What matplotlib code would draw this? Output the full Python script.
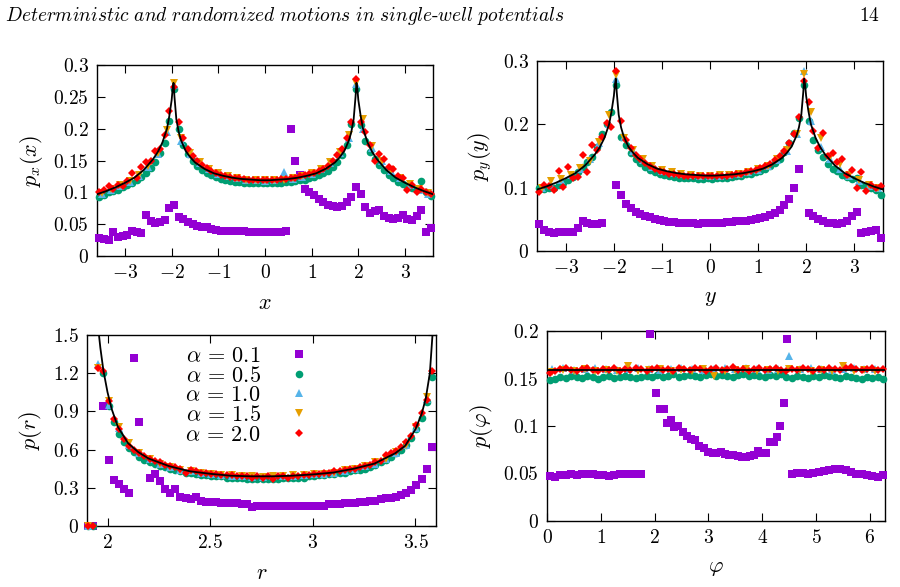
import numpy as np
import matplotlib
matplotlib.use("Agg")
import matplotlib.pyplot as plt
from matplotlib.ticker import FuncFormatter, FixedLocator

plt.rcParams['font.family'] = 'serif'
plt.rcParams['font.serif'] = ['cmr10', 'DejaVu Serif']
plt.rcParams['mathtext.fontset'] = 'cm'
plt.rcParams['axes.unicode_minus'] = False

labels = [r'$\alpha\,=\,0.1$', r'$\alpha\,=\,0.5$', r'$\alpha\,=\,1.0$', r'$\alpha\,=\,1.5$', r'$\alpha\,=\,2.0$']
colors = ['#9400d3', '#009e73', '#56b4e9', '#e69f00', '#ff0000']
markers = ['s', 'o', '^', 'v', 'D']
msizes = [6, 5.5, 5.5, 5.5, 4.5]

# ---------------- p_x(x) ----------------
px_theory_x = [-3.6,-3.4,-3.2,-3.0,-2.8,-2.6,-2.4,-2.3,-2.2,-2.1,-2.05,-2.0,-1.98,-1.96,-1.94,-1.9,-1.85,-1.8,-1.7,-1.6,-1.5,-1.3,-1.1,-0.9,-0.7,-0.5,-0.3,-0.1,0.0,
               0.1,0.3,0.5,0.7,0.9,1.1,1.3,1.5,1.6,1.7,1.8,1.85,1.9,1.94,1.96,1.98,2.0,2.05,2.1,2.2,2.3,2.4,2.6,2.8,3.0,3.2,3.4,3.6]
px_theory_y = [0.097,0.102,0.108,0.115,0.123,0.135,0.152,0.163,0.178,0.200,0.220,0.245,0.262,0.272,0.250,0.215,0.195,0.182,0.165,0.155,0.147,0.137,0.130,0.126,0.123,0.121,0.120,0.119,0.119,
               0.119,0.120,0.121,0.123,0.126,0.130,0.137,0.147,0.155,0.165,0.182,0.195,0.215,0.250,0.272,0.262,0.245,0.220,0.200,0.178,0.163,0.152,0.135,0.123,0.115,0.108,0.102,0.097]
px_grid = np.round(np.arange(-3.55, 3.56, 0.1), 2)
px_purple = [0.028,0.026,0.025,0.037,0.030,0.032,0.033,0.040,0.037,0.036,
             0.065,0.055,0.052,0.053,0.056,0.076,0.080,0.062,0.058,0.053,
             0.050,0.047,0.045,0.045,0.043,0.041,0.040,0.040,0.040,0.040,
             0.039,0.039,0.037,0.038,0.037,0.037,0.038,0.037,0.038,0.038,
             0.039,0.200,0.149,0.127,0.105,0.100,0.096,0.090,0.085,0.080,
             0.078,0.077,0.078,0.085,0.092,0.108,0.098,0.077,0.068,0.070,
             0.072,0.063,0.060,0.058,0.060,0.065,0.058,0.057,0.063,0.072,
             0.038,0.044]
px_green = [0.093,0.096,0.100,0.102,0.104,0.108,0.111,0.115,0.119,0.124,
            0.131,0.138,0.148,0.162,0.178,0.212,0.262,0.200,0.175,0.160,
            0.150,0.142,0.135,0.131,0.127,0.124,0.121,0.119,0.118,0.117,
            0.116,0.115,0.115,0.114,0.114,0.114,
            0.114,0.114,0.115,0.115,0.116,0.117,0.118,0.119,0.120,0.122,
            0.124,0.127,0.130,0.134,0.140,0.148,0.158,0.175,0.208,0.262,
            0.205,0.180,0.163,0.152,0.143,0.135,0.128,0.123,0.117,0.113,
            0.110,0.107,0.104,0.118,0.100,0.095]
px_red = [0.100,0.103,0.110,0.106,0.112,0.110,0.118,0.130,0.122,0.140,
          0.148,0.150,0.165,0.168,0.190,0.228,0.266,0.210,0.185,0.168,
          0.157,0.150,0.143,0.138,0.134,0.130,0.128,0.126,0.124,0.123,
          0.122,0.121,0.120,0.120,0.120,0.119,
          0.119,0.120,0.120,0.121,0.121,0.122,0.123,0.125,0.127,0.129,
          0.131,0.134,0.137,0.142,0.150,0.158,0.168,0.185,0.210,0.278,
          0.210,0.195,0.175,0.150,0.160,0.152,0.140,0.136,0.125,0.122,
          0.103,0.112,0.100,0.105,0.100,0.098]
bo_grid = [-3.5,-3.3,-3.1,-2.9,-2.7,-2.5,-2.3,-2.1,-1.95,-1.8,-1.6,-1.4,-1.2,-1.0,-0.8,-0.6,-0.4,-0.2,0.0,
           0.2,0.4,0.6,0.8,1.0,1.2,1.4,1.6,1.8,1.95,2.1,2.3,2.5,2.7,2.9,3.1,3.3,3.5]
px_blue = [0.098,0.104,0.110,0.117,0.126,0.140,0.160,0.195,0.268,0.180,0.160,0.146,0.136,0.129,0.125,0.122,0.120,0.119,0.118,
           0.119,0.132,0.121,0.124,0.129,0.136,0.146,0.162,0.185,0.270,0.200,0.170,0.150,0.134,0.122,0.112,0.104,0.098]
px_orange = [0.099,0.105,0.111,0.118,0.127,0.141,0.162,0.198,0.272,0.185,0.162,0.147,0.137,0.130,0.125,0.122,0.120,0.119,0.119,
             0.119,0.120,0.122,0.125,0.130,0.137,0.147,0.163,0.190,0.272,0.215,0.172,0.150,0.135,0.123,0.113,0.105,0.099]

# ---------------- p_y(y) ----------------
py_purple = [0.042,0.033,0.030,0.028,0.030,0.030,0.030,0.030,0.036,0.048,
             0.045,0.042,0.043,0.044,np.nan,np.nan,0.105,0.088,0.074,0.068,
             0.062,0.058,0.056,0.053,0.050,0.049,0.047,0.046,0.046,0.045,
             0.045,0.044,0.044,0.043,0.044,0.045,0.044,0.044,0.045,0.046,
             0.046,0.047,0.048,0.048,0.049,0.050,0.052,0.054,0.057,0.060,
             0.065,0.072,0.082,0.100,0.130,np.nan,0.060,0.056,0.050,0.047,
             0.045,0.044,0.043,0.045,0.048,0.055,0.062,0.028,0.030,0.032,
             0.033,0.021]
py_green = [0.099,0.098,0.099,0.100,0.104,0.108,0.112,0.117,0.125,0.132,
            0.140,0.148,0.165,0.185,0.200,0.220,0.262,0.180,0.168,0.155,
            0.146,0.139,0.133,0.128,0.125,0.122,0.120,0.118,0.117,0.116,
            0.115,0.115,0.115,0.114,0.114,0.115,
            0.114,0.115,0.115,0.116,0.117,0.118,0.119,0.121,0.122,0.124,
            0.127,0.130,0.134,0.139,0.146,0.156,0.170,0.186,0.210,0.262,
            0.205,0.175,0.160,0.148,0.138,0.130,0.126,0.120,0.117,0.113,
            0.115,0.105,0.103,0.100,0.097,0.088]
py_red = [0.093,0.105,0.102,0.096,0.127,0.101,0.133,0.115,0.117,0.152,
          0.125,0.167,0.160,0.180,0.202,0.195,0.285,0.205,0.175,0.162,
          0.152,0.145,0.139,0.134,0.130,0.127,0.124,0.122,0.121,0.120,
          0.119,0.119,0.118,0.118,0.118,0.118,
          0.118,0.118,0.119,0.119,0.120,0.121,0.122,0.124,0.126,0.128,
          0.131,0.134,0.138,0.143,0.150,0.158,0.170,0.185,0.212,0.268,
          0.235,0.190,0.162,0.186,0.150,0.155,0.140,0.145,0.120,0.128,
          0.100,0.125,0.095,0.105,0.100,0.103]
py_blue = [0.099,0.104,0.112,0.120,0.130,0.145,0.170,0.200,0.272,0.180,0.158,0.143,0.133,0.127,0.123,0.121,0.120,0.119,0.119,
           0.119,0.120,0.121,0.124,0.128,0.134,0.143,0.158,0.185,0.285,0.205,0.165,0.145,0.130,0.118,0.110,0.103,0.099]
py_orange = [0.100,0.110,0.113,0.120,0.131,0.142,0.172,0.215,0.278,0.178,0.160,0.145,0.134,0.128,0.124,0.121,0.120,0.119,0.119,
             0.120,0.120,0.122,0.125,0.129,0.135,0.145,0.160,0.185,0.280,0.220,0.178,0.148,0.138,0.120,0.112,0.104,0.100]

# ---------------- p(r) ----------------
pr_theory_r = [1.955,1.965,1.98,2.0,2.02,2.05,2.1,2.15,2.2,2.3,2.4,2.5,2.6,2.7,2.8,2.9,3.0,3.1,3.2,3.3,3.4,3.45,3.5,3.53,3.55,3.57,3.585]
pr_theory_y = [1.55,1.40,1.22,1.05,0.92,0.78,0.65,0.58,0.53,0.47,0.43,0.41,0.395,0.39,0.39,0.395,0.405,0.42,0.45,0.49,0.57,0.63,0.76,0.88,1.00,1.20,1.55]
pr_grid = np.round(np.arange(1.905, 3.59, 0.025), 3)
pr_red = [0.00,0.00,1.24,1.22,0.98,0.84,0.76,0.68,0.63,0.60,
          0.57,0.55,0.53,0.51,0.50,0.48,0.47,0.46,0.45,0.42,
          0.44,0.43,0.42,0.42,0.41,0.41,0.40,0.40,0.40,0.39,
          0.39,0.39,0.38,0.39,0.38,0.39,0.37,0.39,0.39,0.38,
          0.39,0.39,0.40,0.40,0.41,0.41,0.42,0.42,0.43,0.43,
          0.44,0.45,0.45,0.46,0.47,0.48,0.50,0.51,0.56,0.57,
          0.59,0.62,0.66,0.71,0.79,0.89,0.99,1.22]
pr_green = [0.00,0.00,np.nan,1.20,0.94,0.82,0.72,0.66,0.61,0.58,
            0.54,0.52,0.50,0.49,0.47,0.46,0.45,0.44,0.43,0.42,
            0.42,0.41,0.40,0.40,0.39,0.39,0.39,0.38,0.38,0.38,
            0.38,0.37,0.37,0.37,0.37,0.37,0.37,0.37,0.38,0.38,
            0.38,0.38,0.38,0.39,0.39,0.40,0.40,0.41,0.41,0.42,
            0.42,0.43,0.44,0.44,0.45,0.46,0.48,0.50,0.52,0.54,
            0.57,0.60,0.64,0.69,0.76,0.85,0.97,1.17]
pr_purple = [0.00,0.00,np.nan,0.94,0.52,0.36,0.33,0.29,0.26,1.32,
             0.82,np.nan,0.38,0.41,0.35,0.29,0.26,0.29,0.23,0.22,
             0.21,0.23,0.20,0.19,0.19,0.19,0.18,0.18,0.18,0.18,
             0.17,0.17,0.15,0.16,0.16,0.16,0.16,0.16,0.16,0.16,
             0.16,0.16,0.16,0.16,0.16,0.16,0.16,0.17,0.17,0.17,
             0.18,0.18,0.18,0.19,0.19,0.20,0.20,0.21,0.22,0.22,
             0.23,0.24,0.26,0.28,0.32,0.37,0.45,0.62]
pr_bo_grid = np.round(np.arange(1.905, 3.59, 0.05), 3)
pr_blue = [0.00,1.27,0.95,0.77,0.64,0.57,0.53,0.49,0.46,0.44,
           0.43,0.42,0.41,0.40,0.395,0.39,0.385,0.385,0.39,0.39,
           0.395,0.40,0.405,0.41,0.42,0.435,0.45,0.47,0.49,0.53,
           0.57,0.64,0.77,1.00]
pr_orange = [0.00,1.24,0.98,0.78,0.65,0.57,0.53,0.49,0.46,0.44,
             0.43,0.42,0.41,0.40,0.40,0.39,0.39,0.385,0.39,0.39,
             0.40,0.40,0.41,0.41,0.42,0.44,0.45,0.47,0.50,0.53,
             0.58,0.64,0.78,1.01]

# ---------------- p(phi) ----------------
pphi_theory_x = [0.0, 6.2832]
pphi_theory_y = [0.159, 0.159]
ph_grid = np.round(np.arange(0.05, 6.26, 0.1), 2)
ph_green = [0.148,0.150,0.152,0.151,0.153,0.152,0.151,0.153,0.152,0.150,
            0.152,0.153,0.151,0.152,0.153,0.152,0.151,0.152,0.153,0.152,
            0.154,0.152,0.153,0.155,0.152,0.153,0.154,0.153,0.152,0.154,
            0.155,0.153,0.154,0.153,0.152,0.154,0.155,0.153,0.154,0.153,
            0.152,0.154,0.153,0.155,0.152,0.151,0.153,0.152,0.151,0.153,
            0.152,0.154,0.153,0.152,0.151,0.153,0.152,0.151,0.150,0.152,
            0.151,0.152,0.150]
ph_red = [0.156,0.158,0.160,0.161,0.159,0.158,0.160,0.161,0.159,0.158,
          0.160,0.159,0.161,0.158,0.160,0.159,0.161,0.160,0.158,0.160,
          0.161,0.159,0.160,0.158,0.161,0.160,0.159,0.161,0.160,0.158,
          0.160,0.161,0.159,0.160,0.162,0.159,0.160,0.158,0.160,0.161,
          0.159,0.160,0.161,0.159,0.158,0.160,0.159,0.161,0.160,0.158,
          0.160,0.159,0.161,0.160,0.159,0.161,0.162,0.160,0.159,0.160,
          0.161,0.159,0.160]
ph_bo_grid = np.round(np.arange(0.1, 6.3, 0.2), 2)
ph_blue = [0.160,0.161,0.159,0.160,0.161,0.160,0.159,0.160,0.161,0.160,
           0.159,0.160,0.161,0.160,0.159,0.160,0.161,0.160,0.161,0.160,
           0.159,0.160,0.174,0.160,0.161,0.160,0.159,0.160,0.161,0.160,
           0.160]
ph_orange = [0.157,0.159,0.158,0.160,0.158,0.159,0.158,0.163,0.158,0.159,
             0.160,0.158,0.159,0.158,0.160,0.153,0.158,0.159,0.160,0.158,
             0.159,0.158,0.160,0.159,0.158,0.159,0.158,0.163,0.158,0.159,
             0.158]
ph_purple_x = [0.05,0.15,0.25,0.35,0.45,0.55,0.65,0.75,0.85,0.95,1.05,1.15,1.25,1.35,1.45,1.55,1.65,1.75,
               1.92,2.03,2.10,2.18,2.23,2.30,2.37,2.44,2.52,2.60,2.67,2.75,2.83,2.92,3.00,3.08,3.15,3.23,3.30,
               3.38,3.46,3.55,3.62,3.70,3.78,3.85,3.92,4.00,4.07,4.15,4.22,4.28,4.34,4.40,4.46,
               4.55,4.65,4.75,4.85,4.95,5.05,5.15,5.25,5.35,5.45,5.55,5.65,5.75,5.85,5.95,6.05,6.15,6.25]
ph_purple = [0.047,0.046,0.048,0.048,0.049,0.048,0.049,0.050,0.049,0.048,0.048,0.047,0.048,0.049,0.049,0.050,0.049,0.050,
             0.197,0.135,0.118,0.118,0.103,0.106,0.099,0.100,0.094,0.090,0.086,0.085,0.079,0.077,0.073,0.072,0.072,0.073,0.071,
             0.070,0.069,0.068,0.067,0.067,0.068,0.070,0.074,0.072,0.072,0.083,0.083,0.088,0.100,0.124,0.192,
             0.050,0.051,0.051,0.050,0.051,0.052,0.053,0.054,0.055,0.055,0.054,0.052,0.050,0.049,0.048,0.047,0.046,0.048]

W, H = 900, 587
fig = plt.figure(figsize=(9, 5.87), dpi=100)

def mkax(l, r, t, b):
    return fig.add_axes([l / W, 1 - b / H, (r - l) / W, (b - t) / H])

def fmt(v, pos):
    return '$' + f'{v:g}' + '$'

def style(ax, xl, yl, xt, yt, xlab, ylab):
    ax.set_xlim(*xl); ax.set_ylim(*yl)
    ax.xaxis.set_major_locator(FixedLocator(xt))
    ax.yaxis.set_major_locator(FixedLocator(yt))
    ax.xaxis.set_major_formatter(FuncFormatter(fmt))
    ax.yaxis.set_major_formatter(FuncFormatter(fmt))
    ax.tick_params(direction='in', top=True, right=True, length=6, labelsize=14, pad=6)
    ax.set_xlabel(xlab, fontsize=16, labelpad=8)
    ax.set_ylabel(ylab, fontsize=16, labelpad=6)
    for s in ax.spines.values():
        s.set_linewidth(1.0)

def scat(ax, x, y, i, z):
    ax.plot(x, y, linestyle='none', marker=markers[i], color=colors[i], ms=msizes[i],
            mew=0, label=labels[i], zorder=z, clip_on=False)

axes_data = [
    (mkax(97, 433, 65, 256), px_grid, px_purple, px_green, bo_grid, px_blue, px_orange, px_red, px_grid,
     px_theory_x, px_theory_y, (-3.6, 3.6), (0, 0.3), [-3, -2, -1, 0, 1, 2, 3],
     [0, 0.05, 0.1, 0.15, 0.2, 0.25, 0.3], r'$x$', r'$p_x(x)$'),
    (mkax(537, 883, 61, 251), px_grid, py_purple, py_green, bo_grid, py_blue, py_orange, py_red, px_grid,
     px_theory_x, px_theory_y, (-3.6, 3.6), (0, 0.3), [-3, -2, -1, 0, 1, 2, 3],
     [0, 0.1, 0.2, 0.3], r'$y$', r'$p_y(y)$'),
    (mkax(87, 436, 335, 526), pr_grid, pr_purple, pr_green, pr_bo_grid, pr_blue, pr_orange, pr_red, pr_grid,
     pr_theory_r, pr_theory_y, (1.9, 3.6), (0, 1.5), [2, 2.5, 3, 3.5],
     [0, 0.3, 0.6, 0.9, 1.2, 1.5], r'$r$', r'$p(r)$'),
    (mkax(547, 885, 331, 521), ph_purple_x, ph_purple, ph_green, ph_bo_grid, ph_blue, ph_orange, ph_red, ph_grid,
     pphi_theory_x, pphi_theory_y, (0, 6.2832), (0, 0.2), [0, 1, 2, 3, 4, 5, 6],
     [0, 0.05, 0.1, 0.15, 0.2], r'$\varphi$', r'$p(\varphi)$'),
]

for k, (ax, xp, yp, yg, xbo, yb, yo, yr, xg, tx, ty, xl, yl, xt, yt, xlab, ylab) in enumerate(axes_data):
    scat(ax, xp, yp, 0, 3)
    scat(ax, xg, yg, 1, 4)
    scat(ax, xbo, yb, 2, 5)
    scat(ax, xbo, yo, 3, 6)
    scat(ax, xg, yr, 4, 7)
    ax.plot(tx, ty, color='black', lw=1.3, zorder=8)
    style(ax, xl, yl, xt, yt, xlab, ylab)
    if k == 2:
        ax.legend(loc='upper center', bbox_to_anchor=(0.46, 1.0), markerfirst=False, frameon=False,
                  fontsize=16, handletextpad=1.2, labelspacing=0.0, borderaxespad=0.1,
                  handlelength=1.0, markerscale=1.0)

fig.text(5 / W, 1 - 16 / H, r'$\mathit{Deterministic\ and\ randomized\ motions\ in\ single\text{-}well\ potentials}$',
         fontsize=14, va='center', ha='left')
fig.text(880 / W, 1 - 16 / H, r'$14$', fontsize=14, va='center', ha='right')

fig.savefig('out.png', dpi=100)
